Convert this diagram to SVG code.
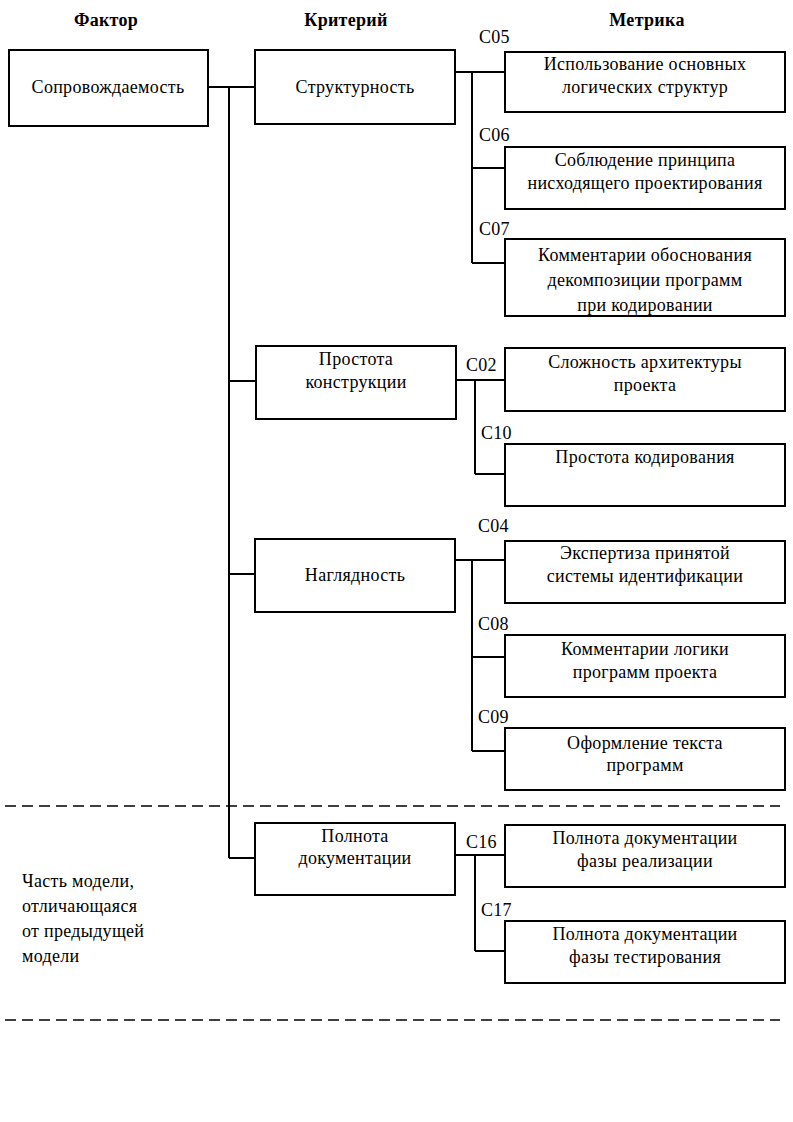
<svg xmlns="http://www.w3.org/2000/svg" width="793" height="1122" viewBox="0 0 793 1122">
<style>
text{font-family:"Liberation Serif","Times New Roman",serif;font-size:18px;letter-spacing:0.3px;fill:#000}
.h{font-weight:bold;text-anchor:middle}
.c{text-anchor:middle}
rect{fill:#fff;stroke:#000;stroke-width:2}
.ln{stroke:#000;stroke-width:2;fill:none}
.d{stroke:#000;stroke-width:1.5;stroke-dasharray:11,6;fill:none}
</style>
<rect x="0" y="0" width="793" height="1122" style="stroke:none"/>
<g id="headers">
<text class="h" x="106" y="26">Фактор</text>
<text class="h" x="346" y="26">Критерий</text>
<text class="h" x="647" y="26">Метрика</text>
</g>
<g id="connectors">
<path class="ln" d="M208,87H255M229,87V858M229,381H256M229,574H255M229,858H255"/>
<path class="ln" d="M455,72H505M472,72V263M472,168H505M472,263H505"/>
<path class="ln" d="M456,380H505M475,380V474M475,474H505"/>
<path class="ln" d="M455,560H505M472,560V751M472,657H505M472,751H505"/>
<path class="ln" d="M455,855H505M475,855V951M475,951H505"/>
<path class="d" d="M5,806H780M5,1020H780"/>
</g>
<g id="factor"><rect x="9" y="50" width="199" height="76"/><text class="c" x="108" y="93">Сопровождаемость</text></g>
<g id="crit-struct"><rect x="255" y="50" width="200" height="74"/><text class="c" x="355" y="93">Структурность</text></g>
<g id="crit-prostota"><rect x="256" y="346" width="200" height="73"/><text class="c" x="356" y="365">Простота</text><text class="c" x="356" y="388">конструкции</text></g>
<g id="crit-nagl"><rect x="255" y="539" width="200" height="73"/><text class="c" x="355" y="581">Наглядность</text></g>
<g id="crit-poln"><rect x="255" y="823" width="200" height="72"/><text class="c" x="355" y="842">Полнота</text><text class="c" x="355" y="864">документации</text></g>
<g id="labels">
<text x="479" y="43">C05</text>
<text x="479" y="141">C06</text>
<text x="479" y="235">C07</text>
<text x="466" y="371">C02</text>
<text x="481" y="439">C10</text>
<text x="478" y="532">C04</text>
<text x="478" y="630">C08</text>
<text x="478" y="723">C09</text>
<text x="466" y="848">C16</text>
<text x="481" y="916">C17</text>
</g>
<g id="m-c05"><rect x="505" y="52" width="280" height="60"/><text class="c" x="645" y="70">Использование основных</text><text class="c" x="645" y="93">логических структур</text></g>
<g id="m-c06"><rect x="505" y="147" width="280" height="62"/><text class="c" x="645" y="166">Соблюдение принципа</text><text class="c" x="645" y="189">нисходящего проектирования</text></g>
<g id="m-c07"><rect x="505" y="239" width="280" height="77"/><text class="c" x="645" y="261">Комментарии обоснования</text><text class="c" x="645" y="286">декомпозиции программ</text><text class="c" x="645" y="311">при кодировании</text></g>
<g id="m-c02"><rect x="505" y="348" width="280" height="63"/><text class="c" x="645" y="368">Сложность архитектуры</text><text class="c" x="645" y="391">проекта</text></g>
<g id="m-c10"><rect x="505" y="444" width="280" height="62"/><text class="c" x="645" y="463">Простота кодирования</text></g>
<g id="m-c04"><rect x="505" y="541" width="280" height="62"/><text class="c" x="645" y="559">Экспертиза принятой</text><text class="c" x="645" y="582">системы идентификации</text></g>
<g id="m-c08"><rect x="505" y="635" width="280" height="62"/><text class="c" x="645" y="655">Комментарии логики</text><text class="c" x="645" y="678">программ проекта</text></g>
<g id="m-c09"><rect x="505" y="728" width="280" height="62"/><text class="c" x="645" y="749">Оформление текста</text><text class="c" x="645" y="771">программ</text></g>
<g id="m-c16"><rect x="505" y="825" width="280" height="62"/><text class="c" x="645" y="844">Полнота документации</text><text class="c" x="645" y="867">фазы реализации</text></g>
<g id="m-c17"><rect x="505" y="921" width="280" height="62"/><text class="c" x="645" y="940">Полнота документации</text><text class="c" x="645" y="963">фазы тестирования</text></g>
<g id="note">
<text x="22" y="887">Часть модели,</text>
<text x="22" y="912">отличающаяся</text>
<text x="22" y="937">от предыдущей</text>
<text x="22" y="962">модели</text>
</g>
</svg>
